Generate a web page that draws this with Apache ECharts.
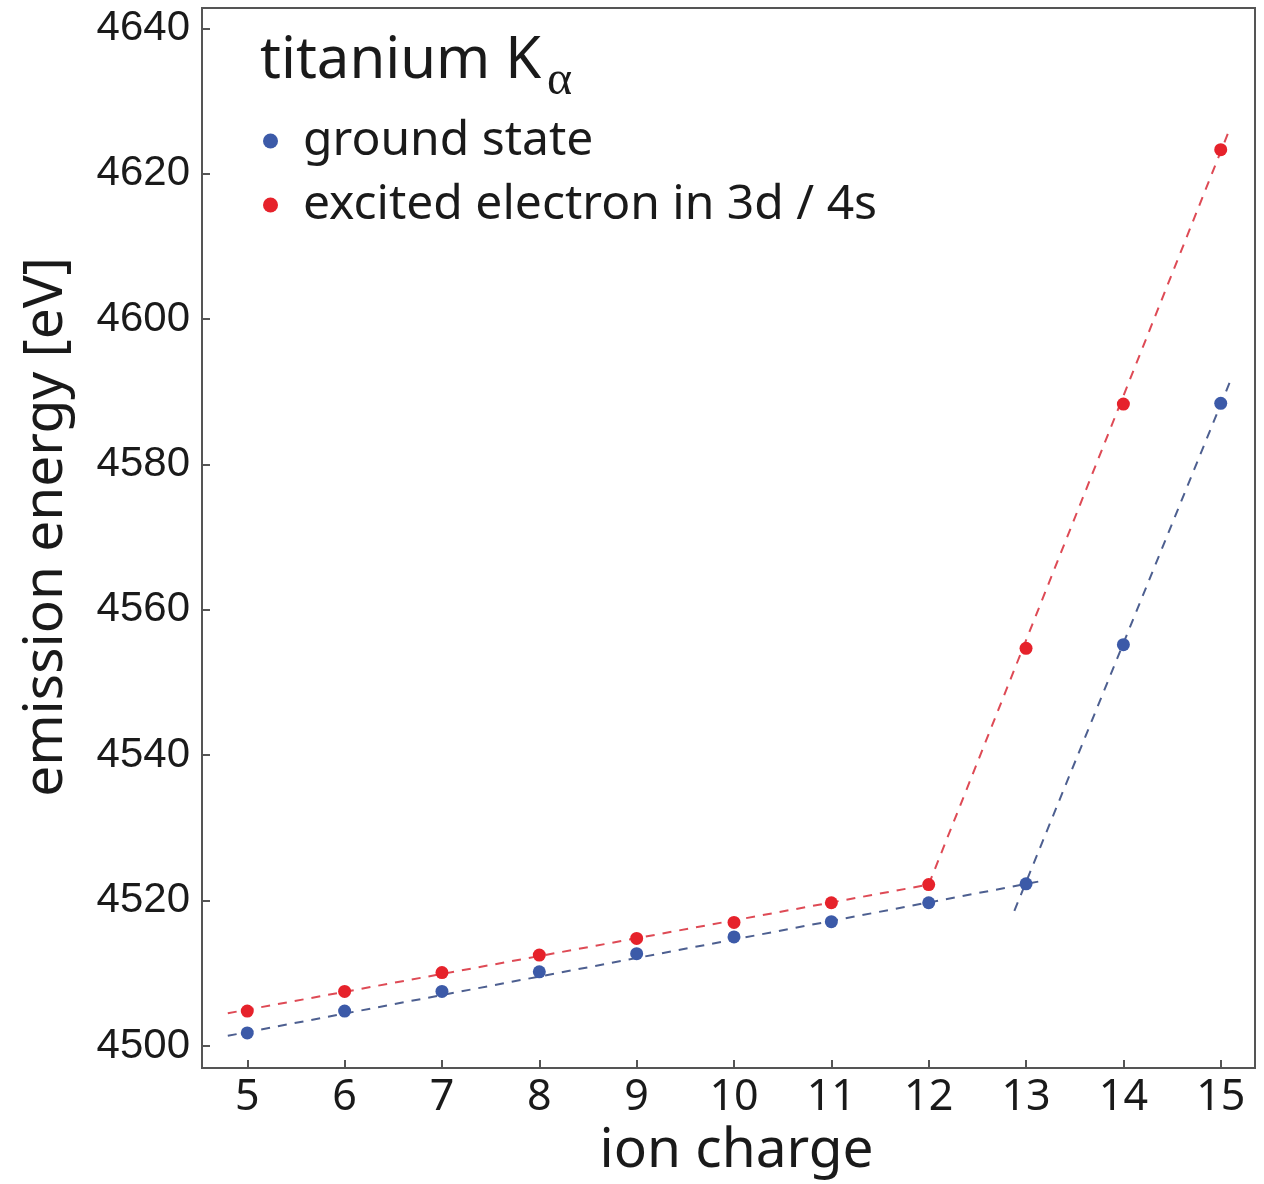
<!DOCTYPE html>
<html>
<head>
<meta charset="utf-8">
<title>titanium K-alpha emission energy</title>
<script src="https://cdn.jsdelivr.net/npm/echarts@6/dist/echarts.min.js"></script>
<style>
  html, body { margin: 0; padding: 0; background: #fff; }
  #chart { width: 1264px; height: 1184px; }
</style>
</head>
<body>
<div id="chart"></div>
<script>
// Ion charge states
const charges = [5, 6, 7, 8, 9, 10, 11, 12, 13, 14, 15];
// Kα emission energy (eV), ground-state configuration
const groundState = [4501.8, 4504.8, 4507.5, 4510.2, 4512.7, 4515.0, 4517.1, 4519.7, 4522.3, 4555.2, 4588.4];
// Kα emission energy (eV), one electron excited into 3d / 4s
const excitedState = [4504.8, 4507.5, 4510.1, 4512.5, 4514.8, 4517.0, 4519.7, 4522.2, 4554.7, 4588.3, 4623.3];

// Linear trend segments [charge, energy]
const groundFitLow = [[4.8, 4501.4], [13.2, 4522.8]];
const groundFitHigh = [[12.88, 4518.6], [15.12, 4592.2]];
const excitedFitLow = [[4.8, 4504.5], [12.0, 4522.2]];
const excitedFitHigh = [[12.0, 4522.2], [15.1, 4626.4]];

// Axis ticks
const xTicks = [5, 6, 7, 8, 9, 10, 11, 12, 13, 14, 15];
const yTicks = [4500, 4520, 4540, 4560, 4580, 4600, 4620, 4640];

const BLUE = '#3c5aa8';
const RED = '#e6222b';
const BLUE_FIT = '#4d5f90';
const RED_FIT = '#de4a55';
const FRAME = '#555555';

const chart = echarts.init(document.getElementById('chart'), null, { renderer: 'canvas' });

const pairs = (xs, ys) => xs.map((x, i) => [x, ys[i]]);

const fitLine = (name, data, color) => ({
  name: name,
  type: 'line',
  data: data,
  showSymbol: false,
  symbol: 'none',
  silent: true,
  z: 2,
  lineStyle: { color: color, width: 2, type: [9, 8] }
});

const option = {
  backgroundColor: '#ffffff',
  animation: false,
  grid: {
    left: 202, right: 9, top: 8, bottom: 116,
    show: true, borderColor: FRAME, borderWidth: 2, backgroundColor: 'transparent'
  },
  xAxis: {
    type: 'value',
    min: 4.535, max: 15.352,
    name: 'ion charge',
    nameLocation: 'middle',
    nameGap: 50,
    nameTextStyle: { fontFamily: 'Noto Sans', fontSize: 55, color: '#1a1a1a', padding: [0, 0, 0, 16] },
    axisLine: { show: true, lineStyle: { color: FRAME, width: 2 } },
    axisTick: { show: true, inside: true, length: 8, customValues: xTicks, lineStyle: { color: FRAME, width: 2 } },
    axisLabel: {
      customValues: xTicks, margin: 8,
      fontFamily: 'Noto Sans', fontSize: 43, color: '#1a1a1a'
    },
    splitLine: { show: false }
  },
  yAxis: {
    type: 'value',
    min: 4496.97, max: 4642.79,
    name: 'emission energy [eV]',
    nameLocation: 'middle',
    nameGap: 128,
    nameTextStyle: { fontFamily: 'Noto Sans', fontSize: 55, color: '#1a1a1a', padding: [0, 0, 0, 22] },
    axisLine: { show: true, lineStyle: { color: FRAME, width: 2 } },
    axisTick: { show: true, inside: true, length: 8, customValues: yTicks, lineStyle: { color: FRAME, width: 2 } },
    axisLabel: {
      customValues: yTicks, margin: 12,
      formatter: (v) => String(v),
      fontFamily: 'Liberation Sans Narrow, Liberation Sans, sans-serif', fontSize: 42, color: '#1a1a1a'
    },
    splitLine: { show: false }
  },
  legend: {
    orient: 'vertical',
    left: 258, top: 112,
    data: ['ground state', 'excited electron in 3d / 4s'],
    icon: 'circle',
    itemWidth: 15, itemHeight: 15,
    itemGap: 16,
    itemStyle: { opacity: 1 },
    textStyle: { fontFamily: 'Noto Sans', fontSize: 48, color: '#1a1a1a', lineHeight: 48, padding: [0, 0, 0, 20] }
  },
  graphic: [
    {
      type: 'text', left: 260, top: 32,
      style: { text: 'titanium K', font: '58px "Noto Sans"', fill: '#1a1a1a' }
    },
    {
      type: 'text', left: 547, top: 57,
      style: { text: 'α', font: '48px "Liberation Serif", serif', fill: '#1a1a1a' }
    }
  ],
  series: [
    fitLine('ground fit low', groundFitLow, BLUE_FIT),
    fitLine('ground fit high', groundFitHigh, BLUE_FIT),
    fitLine('excited fit low', excitedFitLow, RED_FIT),
    fitLine('excited fit high', excitedFitHigh, RED_FIT),
    {
      name: 'ground state',
      type: 'scatter',
      data: pairs(charges, groundState),
      symbol: 'circle', symbolSize: 13, z: 5,
      itemStyle: { color: BLUE, opacity: 1 }
    },
    {
      name: 'excited electron in 3d / 4s',
      type: 'scatter',
      data: pairs(charges, excitedState),
      symbol: 'circle', symbolSize: 13, z: 5,
      itemStyle: { color: RED, opacity: 1 }
    }
  ]
};

chart.setOption(option);
</script>
</body>
</html>
